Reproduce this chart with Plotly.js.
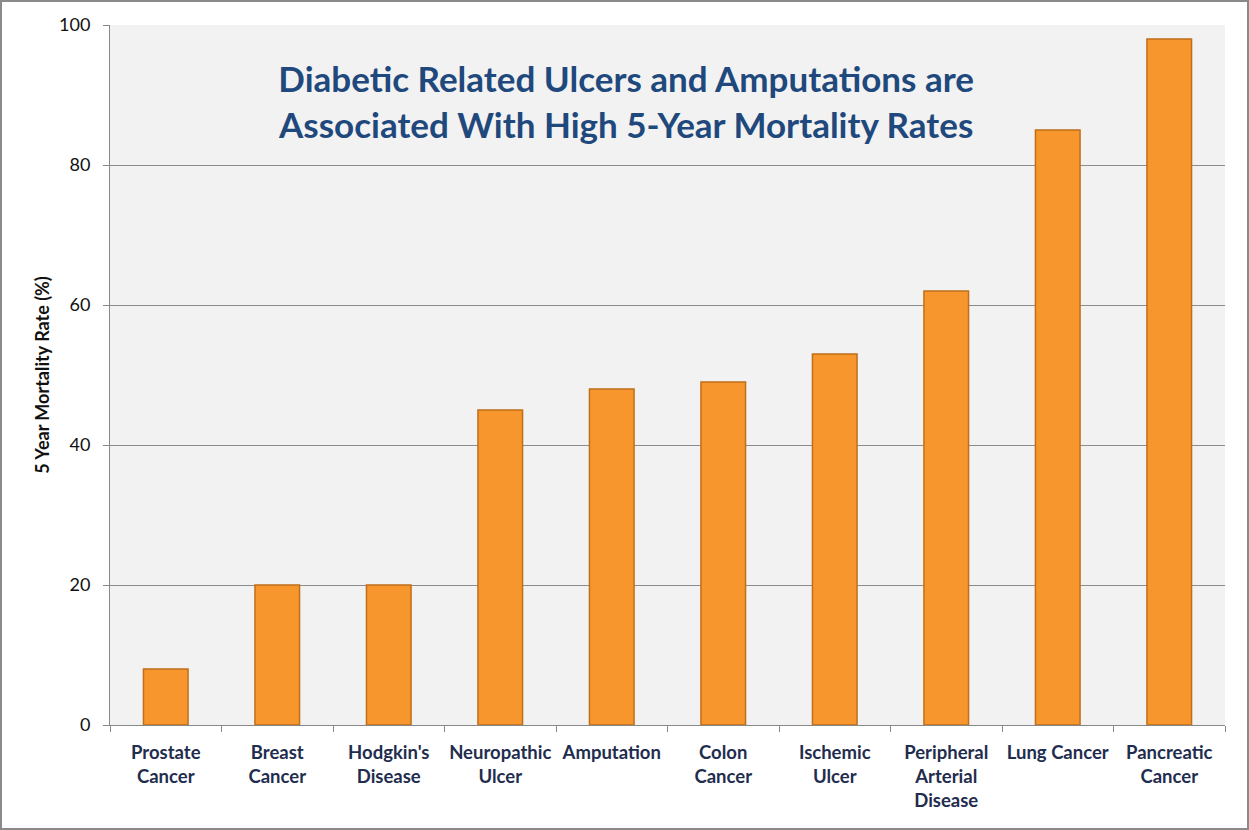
<!DOCTYPE html>
<html>
<head>
<meta charset="utf-8">
<script src="https://cdn.plot.ly/plotly-3.0.1.min.js"></script>
<style>
html,body{margin:0;padding:0;background:#fff;}
#chart{width:1245px;height:826px;border:2px solid #8a8a8a;}
</style>
</head>
<body>
<div id="chart"></div>
<script>
const categories = ["Prostate<br>Cancer","Breast<br>Cancer","Hodgkin's<br>Disease","Neuropathic<br>Ulcer","Amputation","Colon<br>Cancer","Ischemic<br>Ulcer","Peripheral<br>Arterial<br>Disease","Lung Cancer","Pancreatic<br>Cancer"];
const mortality = [8, 20, 20, 45, 48, 49, 53, 62, 85, 98];
const yTicks = [0, 20, 40, 60, 80, 100];
const titleText = "Diabetic Related Ulcers and Amputations are<br>Associated With High 5-Year Mortality Rates";
const yTitle = "5 Year Mortality Rate (%)";

const trace = {
  type: 'bar',
  x: categories,
  y: mortality,
  marker: {color: '#F7962C', line: {color: '#C06E1A', width: 1.5}},
  hoverinfo: 'x+y'
};

const layout = {
  width: 1245, height: 826,
  margin: {l: 108, r: 22, t: 23, b: 103},
  paper_bgcolor: '#ffffff',
  plot_bgcolor: '#f2f2f2',
  bargap: 0.6,
  showlegend: false,
  font: {family: 'Lato, "Open Sans", sans-serif'},
  xaxis: {
    type: 'category',
    tickson: 'boundaries',
    tickangle: 0,
    ticks: 'outside', ticklen: 6, tickcolor: '#888',
    showline: true, linecolor: '#888', linewidth: 1,
    tickfont: {family: 'Lato, sans-serif', size: 18.5, color: '#1F2D4E', weight: 'bold'},
    ticklabelstandoff: 11,
    showgrid: false,
    automargin: false
  },
  yaxis: {
    range: [0, 100],
    tickvals: yTicks,
    ticks: 'outside', ticklen: 6, tickcolor: '#888',
    showline: true, linecolor: '#888', linewidth: 1,
    showgrid: true, gridcolor: '#8c8c8c', gridwidth: 1,
    zeroline: false,
    ticklabelstandoff: 9,
    tickfont: {family: 'Lato, sans-serif', size: 18, color: '#111'},
    title: {text: yTitle, font: {family: 'Lato, sans-serif', size: 18, color: '#111', weight: 'bold'}, standoff: 4},
    automargin: false
  },
  annotations: [{
    text: titleText,
    xref: 'paper', yref: 'paper',
    x: 0.463, y: 0.891, xanchor: 'center', yanchor: 'middle',
    showarrow: false,
    align: 'center',
    font: {family: 'Lato, sans-serif', size: 35, color: '#1F497D', weight: 'bold'}
  }]
};

Plotly.newPlot('chart', [trace], layout, {displayModeBar: false, staticPlot: false});
</script>
</body>
</html>
